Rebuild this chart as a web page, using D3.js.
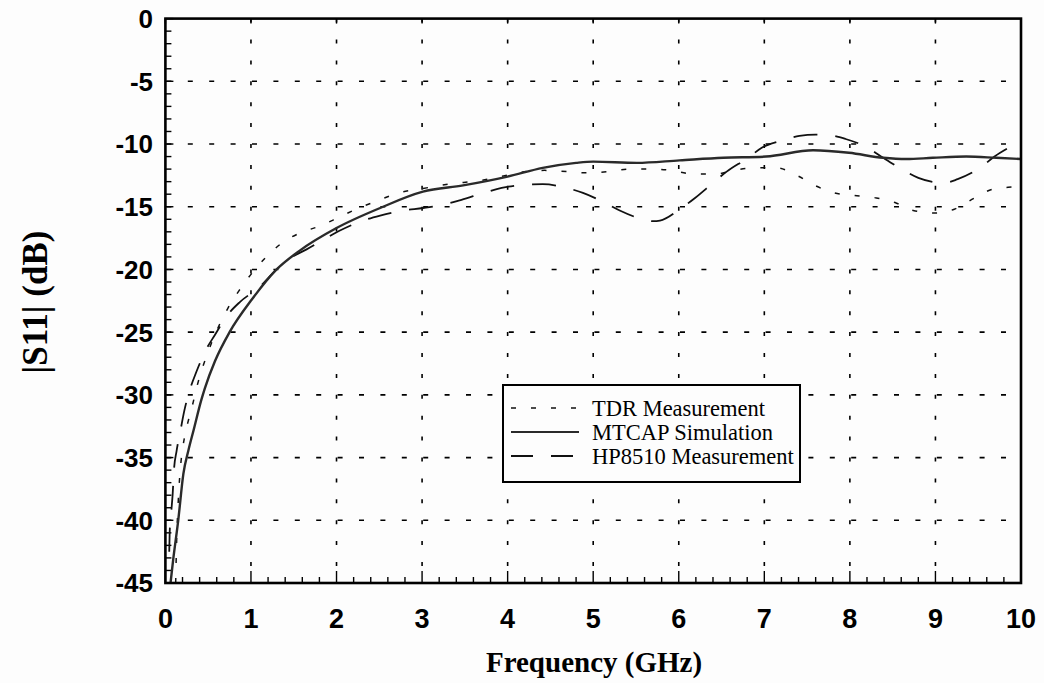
<!DOCTYPE html>
<html>
<head>
<meta charset="utf-8">
<script src="https://cdn.jsdelivr.net/npm/d3@7"></script>
<style>
html,body{margin:0;padding:0;background:#fdfdfd;}
svg{display:block;}
</style>
</head>
<body>
<svg id="chart" width="1044" height="683"></svg>
<script>
// ---- data ----
const xTicks = [0,1,2,3,4,5,6,7,8,9,10];
const yTicks = [0,-5,-10,-15,-20,-25,-30,-35,-40,-45];
const legendLabels = ["TDR Measurement","MTCAP Simulation","HP8510 Measurement"];

const simFreq = [0.06,0.09,0.15,0.21,0.27,0.33,0.42,0.46,0.58,0.75,1.01,1.3,1.57,2.0,2.51,3.01,3.48,4.0,4.41,4.8,5.0,5.51,6.01,6.52,7.02,7.57,7.99,8.39,8.66,8.97,9.36,9.71,10.0];
const simS11 = [-45,-43.2,-40,-36.3,-34.4,-32.8,-30.4,-29.5,-27.3,-25.0,-22.4,-20.0,-18.5,-16.7,-15.1,-13.8,-13.3,-12.6,-11.9,-11.5,-11.4,-11.5,-11.3,-11.1,-11.0,-10.5,-10.7,-11.1,-11.2,-11.1,-11.0,-11.1,-11.2];

const tdrFreq = [0.12,0.13,0.15,0.18,0.22,0.27,0.31,0.37,0.52,0.73,0.87,1.18,1.36,1.57,1.82,2.04,2.26,2.49,2.72,2.97,3.3,3.69,3.95,4.22,4.43,4.69,4.92,5.17,5.43,5.66,5.91,6.17,6.42,6.65,6.89,7.14,7.38,7.59,7.82,8.05,8.31,8.54,8.74,9.01,9.22,9.46,9.67,9.93,10.0];
const tdrS11 = [-45,-42,-38.5,-35.5,-33.5,-32,-31,-29.3,-26.2,-23.1,-21.6,-19.0,-17.9,-17.1,-16.5,-15.8,-15.1,-14.5,-13.9,-13.6,-13.2,-12.9,-12.55,-12.2,-12.1,-12.2,-12.3,-12.2,-12.0,-12.0,-12.1,-12.4,-12.4,-12.1,-11.9,-11.9,-12.5,-13.3,-13.9,-14.1,-14.3,-14.7,-15.3,-15.5,-15.2,-14.3,-13.6,-13.4,-13.35];

const hpFreq = [0.045,0.05,0.07,0.085,0.10,0.13,0.18,0.22,0.29,0.36,0.46,0.58,0.73,0.87,1.1,1.3,1.46,1.65,1.88,2.04,2.31,2.51,2.78,3.01,3.27,3.46,3.72,3.93,4.2,4.41,4.69,4.88,5.14,5.31,5.58,5.7,5.78,6.01,6.19,6.4,6.56,6.81,6.97,7.22,7.41,7.6,7.76,7.95,8.21,8.39,8.63,8.8,9.0,9.1,9.26,9.52,9.69,9.93,10.0];
const hpS11 = [-42.5,-41,-39.2,-37.9,-36,-34.5,-32.7,-31.3,-29.5,-28.2,-26.6,-25.2,-23.6,-22.6,-21.4,-20,-19.1,-18.4,-17.5,-16.9,-16.1,-15.7,-15.3,-15.1,-14.8,-14.45,-13.9,-13.5,-13.25,-13.2,-13.5,-13.9,-14.7,-15.3,-16.0,-16.15,-16.1,-15.2,-14.3,-13.1,-12.2,-11.1,-10.3,-9.7,-9.35,-9.25,-9.3,-9.6,-10.3,-11.1,-12.1,-12.7,-13.05,-13.1,-12.8,-11.9,-11.0,-10.0,-9.7];

// ---- layout ----
const svg = d3.select("#chart");
const L = 165.4, R = 1021, T = 18.6, B = 583;
const x = d3.scaleLinear().domain([0,10]).range([L,R]);
const y = d3.scaleLinear().domain([0,-45]).range([T,B]);

// grid
const grid = svg.append("g").attr("stroke","#000").attr("stroke-width",1.6);
yTicks.filter(v=>v!==0 && v!==-45).forEach(v=>{
  grid.append("line").attr("x1",L+1).attr("x2",R).attr("y1",y(v)).attr("y2",y(v))
    .attr("stroke-dasharray","5,16.4");
});
xTicks.filter(v=>v!==0 && v!==10).forEach(v=>{
  grid.append("line").attr("x1",x(v)).attr("x2",x(v)).attr("y1",T).attr("y2",B)
    .attr("stroke-dasharray","4,16.9");
});

// minor/major ticks
const tk = svg.append("g").attr("stroke","#000").attr("stroke-width",1.4);
d3.range(0,10.001,0.2).forEach(v=>{
  const major = Math.abs(v-Math.round(v))<1e-6;
  tk.append("line").attr("x1",x(v)).attr("x2",x(v)).attr("y1",B).attr("y2",B-(major?12:6));
});
xTicks.forEach(v=>{
  tk.append("line").attr("x1",x(v)).attr("x2",x(v)).attr("y1",T).attr("y2",T+5);
});
d3.range(0,-45.001,-1).forEach(v=>{
  const major = v%5===0;
  tk.append("line").attr("x1",L).attr("x2",L+(major?8:6)).attr("y1",y(v)).attr("y2",y(v));
});

// curves
const line = d3.line().x(d=>x(d[0])).y(d=>y(d[1])).curve(d3.curveMonotoneX);
const zip = (a,b)=>a.map((v,i)=>[v,b[i]]);
const plot = svg.append("g");
plot.append("path").datum(zip(tdrFreq,tdrS11)).attr("d",line)
  .attr("fill","none").attr("stroke","#111").attr("stroke-width",1.5).attr("stroke-dasharray","5,15");
plot.append("path").datum(zip(hpFreq,hpS11)).attr("d",line)
  .attr("fill","none").attr("stroke","#111").attr("stroke-width",1.8).attr("stroke-dasharray","24,18");
plot.append("path").datum(zip(simFreq,simS11)).attr("d",line)
  .attr("fill","none").attr("stroke","#2a2a2a").attr("stroke-width",2.4);

// frame
svg.append("rect").attr("x",L).attr("y",T).attr("width",R-L).attr("height",B-T)
  .attr("fill","none").attr("stroke","#000").attr("stroke-width",2.6);

// tick labels
svg.append("g").selectAll("text").data(yTicks).join("text")
  .attr("x",153).attr("y",d=>y(d)).attr("dy","0.36em").attr("text-anchor","end")
  .attr("font-family","Liberation Sans, Arial, sans-serif").attr("font-weight","bold").attr("font-size",26)
  .text(d=>d);
svg.append("g").selectAll("text").data(xTicks).join("text")
  .attr("x",d=>x(d)).attr("y",628).attr("text-anchor","middle")
  .attr("font-family","Liberation Sans, Arial, sans-serif").attr("font-weight","bold").attr("font-size",27)
  .text(d=>d);

// axis titles
svg.append("text").attr("x",594).attr("y",672).attr("text-anchor","middle")
  .attr("font-family","Liberation Serif, Times New Roman, serif").attr("font-weight","bold").attr("font-size",29)
  .text("Frequency (GHz)");
svg.append("text").attr("transform","translate(47,302) rotate(-90)").attr("text-anchor","middle")
  .attr("font-family","Liberation Serif, Times New Roman, serif").attr("font-weight","bold").attr("font-size",35)
  .text("|S11| (dB)");

// legend
const lg = svg.append("g");
lg.append("rect").attr("x",503).attr("y",385).attr("width",297).attr("height",97)
  .attr("fill","#fdfdfd").attr("stroke","#000").attr("stroke-width",2);
const lgY = [408,432,456];
const styles = [
  {dash:"5,15", w:1.5, c:"#111"},
  {dash:null, w:2.2, c:"#2a2a2a"},
  {dash:"22,18", w:1.8, c:"#111"}
];
legendLabels.forEach((t,i)=>{
  const ln = lg.append("line").attr("x1",511).attr("x2",579).attr("y1",lgY[i]).attr("y2",lgY[i])
    .attr("stroke",styles[i].c).attr("stroke-width",styles[i].w);
  if(styles[i].dash) ln.attr("stroke-dasharray",styles[i].dash);
  lg.append("text").attr("x",592).attr("y",lgY[i]+8)
    .attr("font-family","Liberation Serif, Times New Roman, serif").attr("font-size",22.5)
    .text(t);
});
</script>
</body>
</html>
